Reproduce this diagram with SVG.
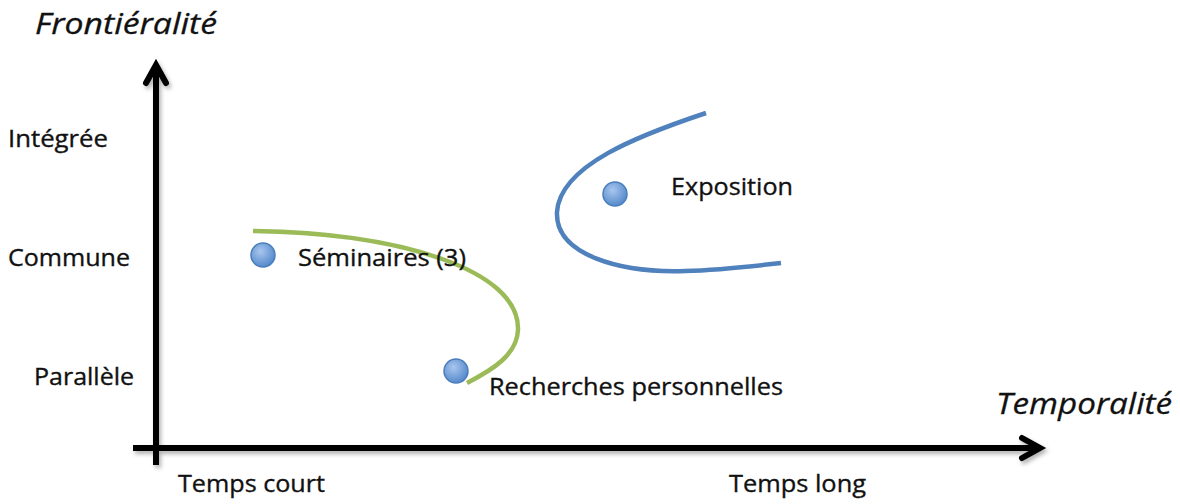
<svg xmlns="http://www.w3.org/2000/svg" width="1180" height="504" viewBox="0 0 1180 504">
<defs>
<style>
.lbl{font-family:"Open Sans","Liberation Sans",sans-serif;font-size:24px;fill:#111;stroke:#111;stroke-width:0.35;}
.ax{font-family:"Open Sans","Liberation Sans",sans-serif;font-size:30px;font-style:italic;fill:#111;stroke:#111;stroke-width:0.3;}
.axis{fill:none;stroke:#000;stroke-width:6;stroke-linecap:butt;}
.head{fill:none;stroke:#000;stroke-width:6;stroke-linecap:round;stroke-linejoin:miter;}
.dot{fill:url(#dg);stroke:#4A7EBB;stroke-width:1.5;}
</style>
<radialGradient id="dg" cx="0.4" cy="0.35" r="0.7">
<stop offset="0" stop-color="#A9C6EE"/>
<stop offset="1" stop-color="#4F86C9"/>
</radialGradient>
<filter id="sh" x="-10%" y="-10%" width="120%" height="130%">
<feDropShadow dx="2" dy="3" stdDeviation="2" flood-color="#000" flood-opacity="0.3"/>
</filter>
</defs>
<rect width="1180" height="504" fill="#fff"/>
<g id="connectors">
<g filter="url(#sh)">
<line class="axis" x1="156" y1="465" x2="156" y2="66"/>
<polyline class="head" points="146,83 156,65 166,83"/>
<line class="axis" x1="133" y1="448" x2="1038" y2="448"/>
<polyline class="head" points="1022,438 1040,448 1022,458"/>
</g>
<path id="green-curve" d="M253,231 C400,233 520,270 518,330 C517,355 492,370 467,383" fill="none" stroke="#9BBB59" stroke-width="4.5" stroke-linecap="butt"/>
<path id="blue-curve" d="M706,113 C640,135 560,165 557,212 C555,255 620,273 685,271 C720,270 755,266 781,263" fill="none" stroke="#4F81BD" stroke-width="4.5" stroke-linecap="butt"/>
</g>
<g id="axis-y-title"><text class="ax" x="35" y="34" textLength="182" lengthAdjust="spacingAndGlyphs">Frontiéralité</text></g>
<g id="axis-x-title"><text class="ax" x="996" y="414" textLength="176" lengthAdjust="spacingAndGlyphs">Temporalité</text></g>
<g id="y-integree"><text class="lbl" x="8" y="147" textLength="100" lengthAdjust="spacingAndGlyphs">Intégrée</text></g>
<g id="y-commune"><text class="lbl" x="8" y="266" textLength="122" lengthAdjust="spacingAndGlyphs">Commune</text></g>
<g id="y-parallele"><text class="lbl" x="34" y="385" textLength="100" lengthAdjust="spacingAndGlyphs">Parallèle</text></g>
<g id="x-court"><text class="lbl" x="178" y="492" textLength="147" lengthAdjust="spacingAndGlyphs">Temps court</text></g>
<g id="x-long"><text class="lbl" x="729" y="492" textLength="137" lengthAdjust="spacingAndGlyphs">Temps long</text></g>
<g id="seminaires">
<circle class="dot" cx="263" cy="255" r="12"/>
<text class="lbl" x="298" y="266" textLength="168" lengthAdjust="spacingAndGlyphs">Séminaires (3)</text>
</g>
<g id="recherches">
<circle class="dot" cx="456" cy="371" r="12"/>
<text class="lbl" x="489" y="395" textLength="294" lengthAdjust="spacingAndGlyphs">Recherches personnelles</text>
</g>
<g id="exposition">
<circle class="dot" cx="615" cy="194" r="12"/>
<text class="lbl" x="671" y="195" textLength="122" lengthAdjust="spacingAndGlyphs">Exposition</text>
</g>
</svg>
